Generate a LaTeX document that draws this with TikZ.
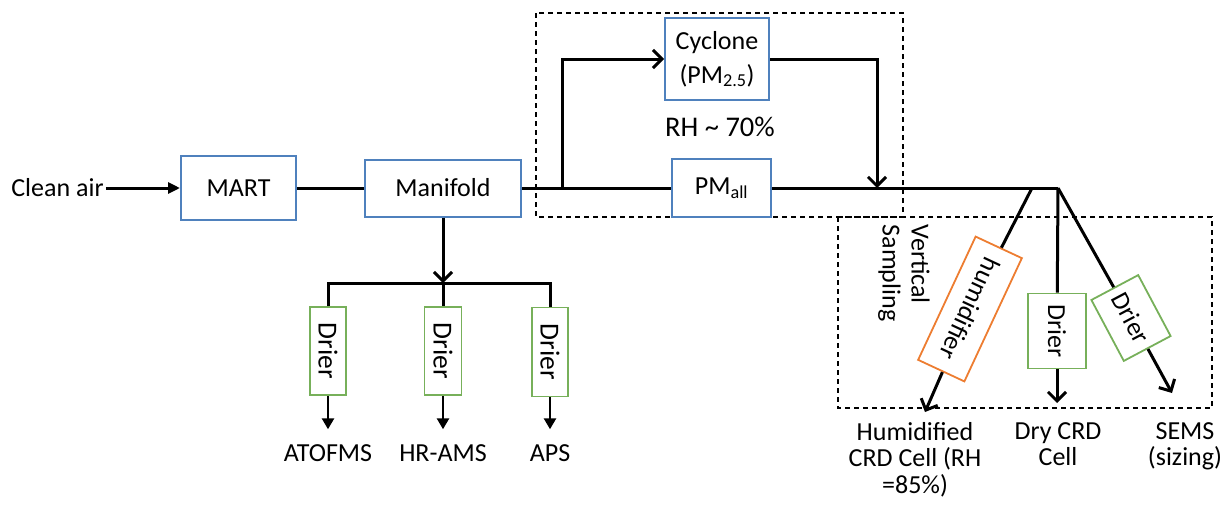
\documentclass[tikz,border=0pt]{standalone}
\usepackage{fontspec}
\setmainfont{Carlito}
\usetikzlibrary{arrows.meta}
\definecolor{boxblue}{RGB}{79,129,189}
\definecolor{boxgreen}{RGB}{119,176,90}
\definecolor{boxorange}{RGB}{237,125,49}
\begin{document}
\begin{tikzpicture}[x=1pt,y=-1pt,
  font=\fontsize{26}{29}\selectfont,
  bluebox/.style={draw=boxblue,line width=2pt,inner sep=0pt,align=center},
  greenbox/.style={draw=boxgreen,line width=1.8pt,inner sep=0pt},
  orangebox/.style={draw=boxorange,line width=1.8pt,inner sep=0pt},
  flow/.style={line width=3pt},
  openarrow/.style={flow,-{Straight Barb[length=9pt,width=18pt]}},
  fillarrow/.style={flow,-{Triangle[length=12pt,width=11pt]}},
  smallarrow/.style={line width=2.6pt,-{Triangle[length=11pt,width=12pt]},shorten >=15pt},
  lab/.style={inner sep=0pt},
  groupbox/.style={line width=1.3pt,dash pattern=on 5pt off 4pt}
]
\useasboundingbox (0,0) rectangle (1226,504);

% group boxes
\draw[groupbox] (536,13) rectangle (903,217);
\draw[groupbox] (838,217) rectangle (1212,408);

% nodes
\node[inner sep=2pt] (clean) at (57.5,188) {Clean air};
\node[bluebox,minimum width=115,minimum height=64] (mart) at (238.5,188) {MART};
\node[bluebox,minimum width=156,minimum height=57] (manifold) at (443,188) {Manifold};
\node[bluebox,minimum width=104,minimum height=82,font=\fontsize{26}{34}\selectfont] (cyclone) at (717,59) {Cyclone\\(PM\textsubscript{2.5})};
\node[bluebox,minimum width=99,minimum height=58] (pmall) at (721.5,188) {PM\textsubscript{all}};
\node[font=\fontsize{28.5}{32}\selectfont] (rh) at (720,127) {RH \textasciitilde{} 70\%};

\coordinate (j1) at (562,188);
\coordinate (j3) at (877,188);
\coordinate (b1) at (1032,188);
\coordinate (b2) at (1058,188);
\coordinate (bus) at (443,283);

% left driers
\node[greenbox,rotate=-90,minimum width=88,minimum height=36,font=\fontsize{27.5}{30}\selectfont] (d1) at (328,351) {Drier};
\node[greenbox,rotate=-90,minimum width=88,minimum height=37,font=\fontsize{27.5}{30}\selectfont] (d2) at (443,351) {Drier};
\node[greenbox,rotate=-90,minimum width=89,minimum height=36,font=\fontsize{27.5}{30}\selectfont] (d3) at (550,352) {Drier};
\node[lab] (l1) at (328,453) {ATOFMS};
\node[lab] (l2) at (443,453) {HR-AMS};
\node[lab] (l3) at (550,453) {APS};

% right branch
\node[rotate=-90,align=left] (vs) at (904,273) {Vertical\\Sampling};
\node[orangebox,rotate=-115,minimum width=136,minimum height=51] (hum) at (970,309) {humidifier};
\node[greenbox,rotate=-90,minimum width=75,minimum height=58] (dr1) at (1057,331) {Drier};
\node[greenbox,rotate=-62,minimum width=69,minimum height=53] (dr2) at (1131,318) {Drier};
\coordinate (tipH) at (925,412);
\coordinate (tipD) at (1057,403);
\coordinate (tipS) at (1172,393);
\node[lab,align=center,anchor=north,font=\fontsize{26}{26.5}\selectfont] (hl) at (915,422) {Humidified\\CRD Cell (RH\\=85\%)};
\node[lab,align=center,anchor=north,font=\fontsize{26}{26.5}\selectfont] (dl) at (1058,422) {Dry CRD\\Cell};
\node[lab,align=center,anchor=north,font=\fontsize{26}{26.5}\selectfont] (sl) at (1185,422) {SEMS\\(sizing)};

% connectors
\draw[fillarrow] (clean) -- (mart);
\draw[flow] (mart) -- (manifold);
\draw[flow] (manifold) -- (j1) -- (pmall);
\draw[flow] (pmall) -- (j3) -- (b1) -- (b2);
\draw[openarrow] (j1) |- (cyclone);
\draw[openarrow] (cyclone) -| (j3);
\draw[openarrow] (manifold) -- (bus);
\draw[flow] (d1) |- (bus) -| (d3);
\draw[flow] (bus) -- (d2);
\draw[smallarrow] (d1) -- (l1);
\draw[smallarrow] (d2) -- (l2);
\draw[smallarrow] (d3) -- (l3);

\draw[flow] (b1) -- (hum);
\draw[openarrow] (hum) -- (tipH);
\draw[flow] (b2) -- (dr1);
\draw[openarrow] (dr1) -- (tipD);
\draw[flow] (b2) -- (dr2);
\draw[openarrow] (dr2) -- (tipS);
\end{tikzpicture}
\end{document}
